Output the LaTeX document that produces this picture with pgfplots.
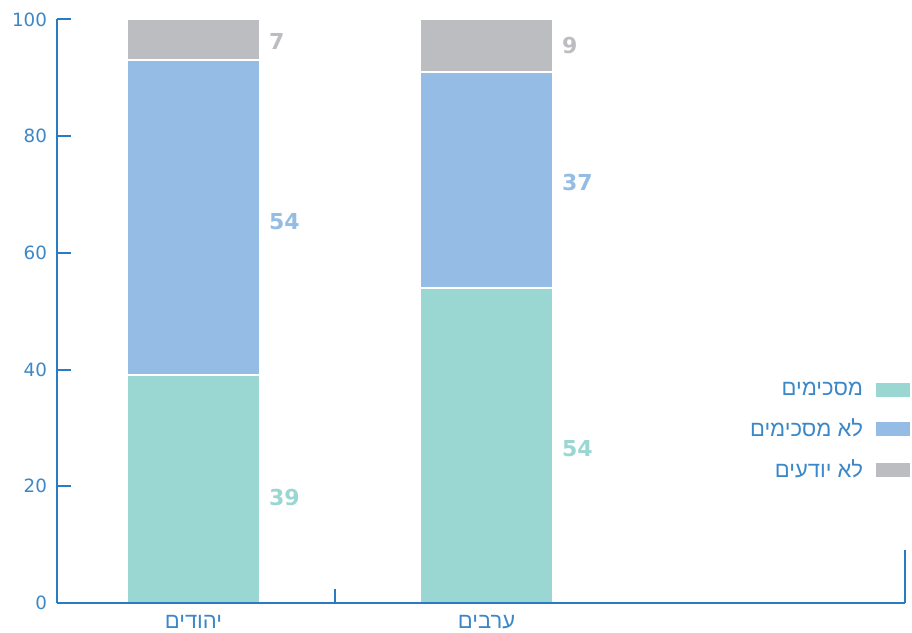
\documentclass[border=0pt]{standalone}
\usepackage{fontspec}
\usepackage{pgfplots}
\pgfplotsset{compat=1.18}
\setmainfont{DejaVu Sans}
\newfontfamily\hebfont[Script=Hebrew]{Liberation Sans}
\TeXXeTstate=1
\definecolor{tealc}{HTML}{9AD6D2}
\definecolor{bluec}{HTML}{94BCE4}
\definecolor{grayc}{HTML}{BCBDC1}
\definecolor{axisblue}{HTML}{2B7BC4}
\definecolor{lblblue}{HTML}{3C87C8}
\newcommand{\heb}[1]{{\hebfont\beginR #1\endR}}
\pgfplotstableread{
x agree disagree dunno
0 39 54 7
1 54 37 9
}\datatable
\begin{document}
\begin{tikzpicture}
\begin{axis}[
  scale only axis, width=636pt, height=437.625pt,
  xmin=-0.4659, xmax=2.428, ymin=0, ymax=100,
  axis x line=bottom, axis y line=left,
  axis line style={-, draw=axisblue, line width=1.5pt},
  axis on top, clip=false,
  ybar stacked, bar width=0.454,
  ytick={0,20,...,100},
  xtick={0,1}, xticklabels={\heb{יהודים},\heb{ערבים}},
  x tick style={draw=none},
  tick align=inside, major tick length=10.5pt,
  y tick style={draw=axisblue, line width=1.5pt},
  /pgf/number format/assume math mode=true,
  ticklabel style={font=\fontsize{13.7}{14}\selectfont, text=lblblue},
  yticklabel style={xshift=-4pt},
  xticklabel style={font=\fontsize{16.5}{16.5}\selectfont, yshift=-6pt},
  legend plot pos=right,
  legend cell align=right,
  legend style={draw=none, fill=none, at={(rel axis cs:1,0.3839)}, anchor=north east,
    xshift=5.25pt, inner sep=0pt, row sep=12pt, column sep=6pt,
    font=\fontsize{16.5}{16.5}\selectfont, text=lblblue},
]
\pgfplotsset{legend image code/.code={\fill[#1] (0pt,-6pt) rectangle (27pt,6pt);}}
\addplot[fill=tealc, draw=white, line width=1.5pt] table[x=x, y=agree] {\datatable};
\addlegendentry{\heb{מסכימים}}
\addplot[fill=bluec, draw=white, line width=1.5pt] table[x=x, y=disagree] {\datatable};
\addlegendentry{\heb{לא מסכימים}}
\addplot[fill=grayc, draw=white, line width=1.5pt] table[x=x, y=dunno] {\datatable};
\addlegendentry{\heb{לא יודעים}}
\draw[axisblue, line width=1.5pt] (axis cs:0.483,0) -- ++(0pt,10.5pt);
\draw[axisblue, line width=1.5pt] (axis cs:2.428,0) -- ++(0pt,39.75pt);
\tikzset{vl/.style={anchor=west, inner sep=0pt, font=\bfseries\fontsize{16.5}{16.5}\selectfont}}
\node[vl, text=tealc] at (axis cs:0.257,18) {39};
\node[vl, text=bluec] at (axis cs:0.257,65.3) {54};
\node[vl, text=grayc] at (axis cs:0.257,96.3) {7};
\node[vl, text=tealc] at (axis cs:1.257,26.4) {54};
\node[vl, text=bluec] at (axis cs:1.257,72) {37};
\node[vl, text=grayc] at (axis cs:1.257,95.5) {9};
\end{axis}
\pgfresetboundingbox
\path ([xshift=-42.75pt, yshift=-22.5pt]current axis.south west) rectangle ([xshift=5.25pt, yshift=14.625pt]current axis.north east);
\end{tikzpicture}
\end{document}
